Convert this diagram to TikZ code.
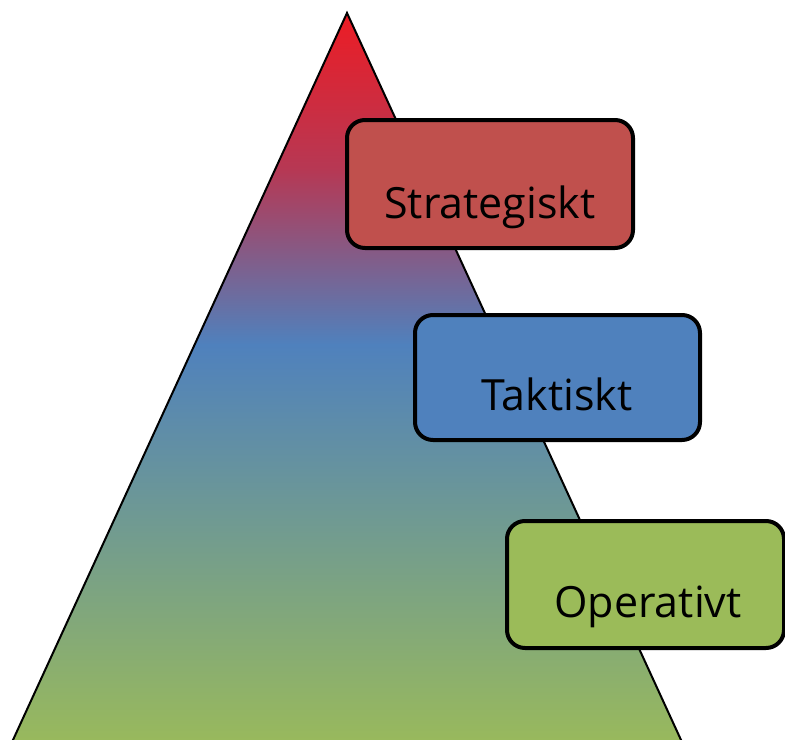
\documentclass[tikz,border=0pt]{standalone}
\usepackage{fontspec}
\setmainfont{Open Sans}
\definecolor{topred}{RGB}{237,28,36}
\definecolor{upperred}{RGB}{182,56,84}
\definecolor{midblue}{RGB}{79,129,189}
\definecolor{lowgreen}{RGB}{155,187,89}
\definecolor{boxred}{RGB}{192,80,77}
\definecolor{boxblue}{RGB}{79,129,189}
\definecolor{boxgreen}{RGB}{155,187,89}
\tikzset{
  levelbox/.style={draw=black, line width=4bp, rounded corners=18bp},
  leveltext/.style={anchor=base, inner sep=0pt, font=\fontsize{43bp}{50bp}\selectfont},
}
\begin{document}
\begin{tikzpicture}[x=1bp,y=-1bp]
\useasboundingbox (0,0) rectangle (785,740);
\clip (0,0) rectangle (785,740);
% pyramid coordinates
\coordinate (apex) at (347,13);
\coordinate (baseL) at (7,753);
\coordinate (baseR) at (687,753);
% shaded pyramid body
\begin{scope}
  \clip (apex) -- (baseR) -- (baseL) -- cycle;
  \shade[top color=topred, bottom color=upperred] (0,12) rectangle (785,170);
  \shade[top color=upperred, bottom color=midblue] (0,169.5) rectangle (785,345);
  \shade[top color=midblue, bottom color=lowgreen] (0,344.5) rectangle (785,755);
\end{scope}
\draw[line width=2bp, line join=miter] (apex) -- (baseR) -- (baseL) -- cycle;
% level boxes
\draw[levelbox, fill=boxred] (347,120) rectangle (633,248);
\node[leveltext] (strat) at (490,218) {Strategiskt};
\draw[levelbox, fill=boxblue] (415,315) rectangle (700,440);
\node[leveltext] (takt) at (557,410) {Taktiskt};
\draw[levelbox, fill=boxgreen] (507,521) rectangle (784,648);
\node[leveltext] (oper) at (648,617) {Operativt};
\end{tikzpicture}
\end{document}
